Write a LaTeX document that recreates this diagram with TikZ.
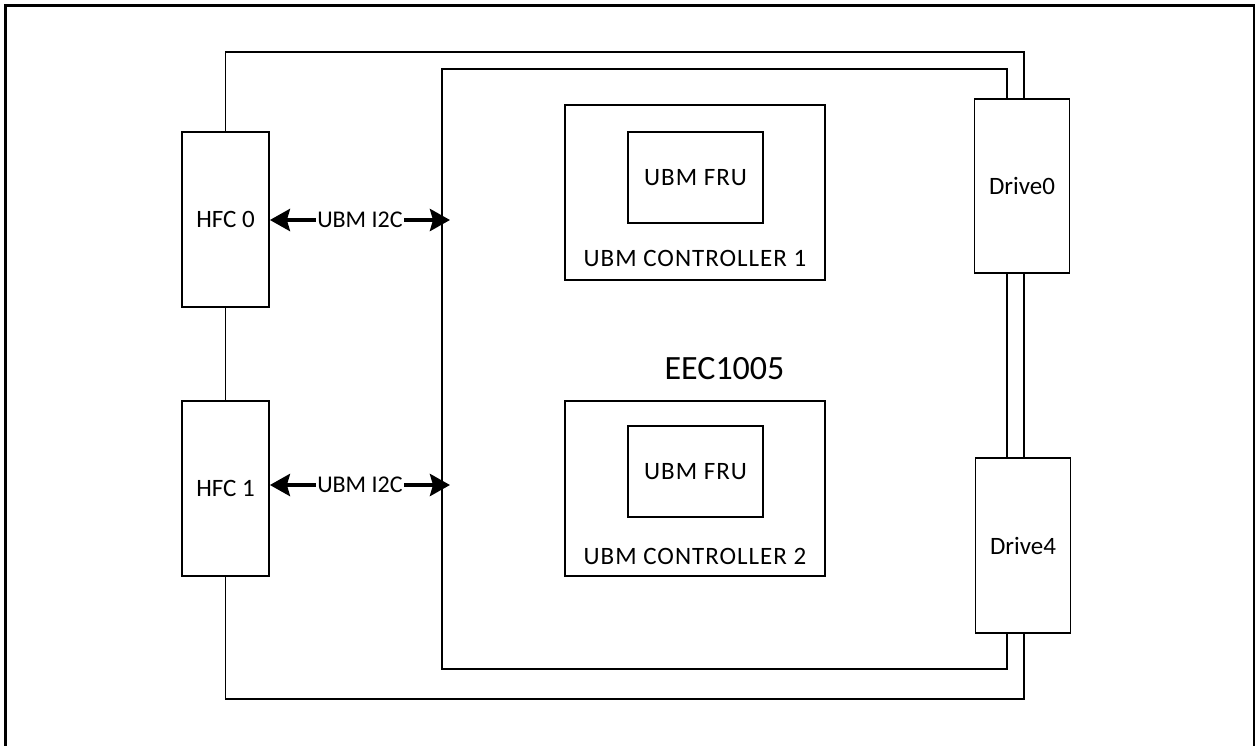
\documentclass[tikz,border=0pt]{standalone}
\usepackage{fontspec}
\setmainfont{Carlito}
\usetikzlibrary{arrows.meta}
\begin{document}
\begin{tikzpicture}[x=1pt,y=-1pt,
  box/.style={draw=black,line width=1.8pt,fill=white,rectangle,inner sep=0pt},
  wire/.style={draw=black,line width=1.8pt},
  lbl/.style={font=\fontsize{25}{30}\selectfont,inner sep=0pt},
  splbl/.style={font=\fontsize{25}{30}\selectfont\addfontfeature{LetterSpace=4},inner sep=0pt},
  busarrow/.style={line width=4pt,{Stealth[length=20pt,width=22pt,inset=3pt]}-{Stealth[length=20pt,width=22pt,inset=3pt]}}
]
\useasboundingbox (0,0) rectangle (1256,745);
% outer frame (cut at the bottom)
\draw[line width=2.5pt] (5.5,746) -- (5.5,5.5) -- (1254,5.5) -- (1254,746);

% EEC1005 board
\node[box,fill=none,minimum width=565pt,minimum height=600pt,font=\fontsize{34}{40}\selectfont] (eec) at (724.5,369) {EEC1005};

% wire loop corners
\coordinate (tl) at (225.5,52);
\coordinate (tr) at (1024,52);
\coordinate (bl) at (225.5,699);
\coordinate (br) at (1024,699);
\draw[wire] (bl) -- (tl) -- (tr) -- (br) -- cycle;

% controllers
\node[box,minimum width=260pt,minimum height=175pt] (ctrl1) at (695,192.5) {};
\node[box,minimum width=135pt,minimum height=91pt,splbl] (fru1) at (695.5,177.5) {UBM FRU};
\node[splbl] (ctrl1lbl) at ([yshift=22pt]ctrl1.south) {UBM CONTROLLER 1};

\node[box,minimum width=260pt,minimum height=175pt] (ctrl2) at (695,488.5) {};
\node[box,minimum width=135pt,minimum height=91pt,splbl] (fru2) at (695.5,471.5) {UBM FRU};
\node[splbl] (ctrl2lbl) at ([yshift=20pt]ctrl2.south) {UBM CONTROLLER 2};

% HFCs
\node[box,minimum width=87pt,minimum height=175pt,lbl] (hfc0) at (225.5,219.5) {HFC 0};
\node[box,minimum width=87pt,minimum height=175pt,lbl] (hfc1) at (225.5,488.5) {HFC 1};

% drives
\node[box,minimum width=95pt,minimum height=174pt,lbl] (drive0) at (1022,186) {Drive0};
\node[box,minimum width=95pt,minimum height=175pt,lbl] (drive4) at (1023,545.5) {Drive4};

% I2C arrows
\coordinate (i2c0) at (450,220);
\coordinate (i2c1) at (450,485);
\draw[busarrow] (hfc0.east |- i2c0) -- (i2c0) node[midway,fill=white,lbl,font=\fontsize{24}{28}\selectfont,inner sep=1pt] {UBM I2C};
\draw[busarrow] (hfc1.east |- i2c1) -- (i2c1) node[midway,fill=white,lbl,font=\fontsize{24}{28}\selectfont,inner sep=1pt] {UBM I2C};
\end{tikzpicture}
\end{document}
